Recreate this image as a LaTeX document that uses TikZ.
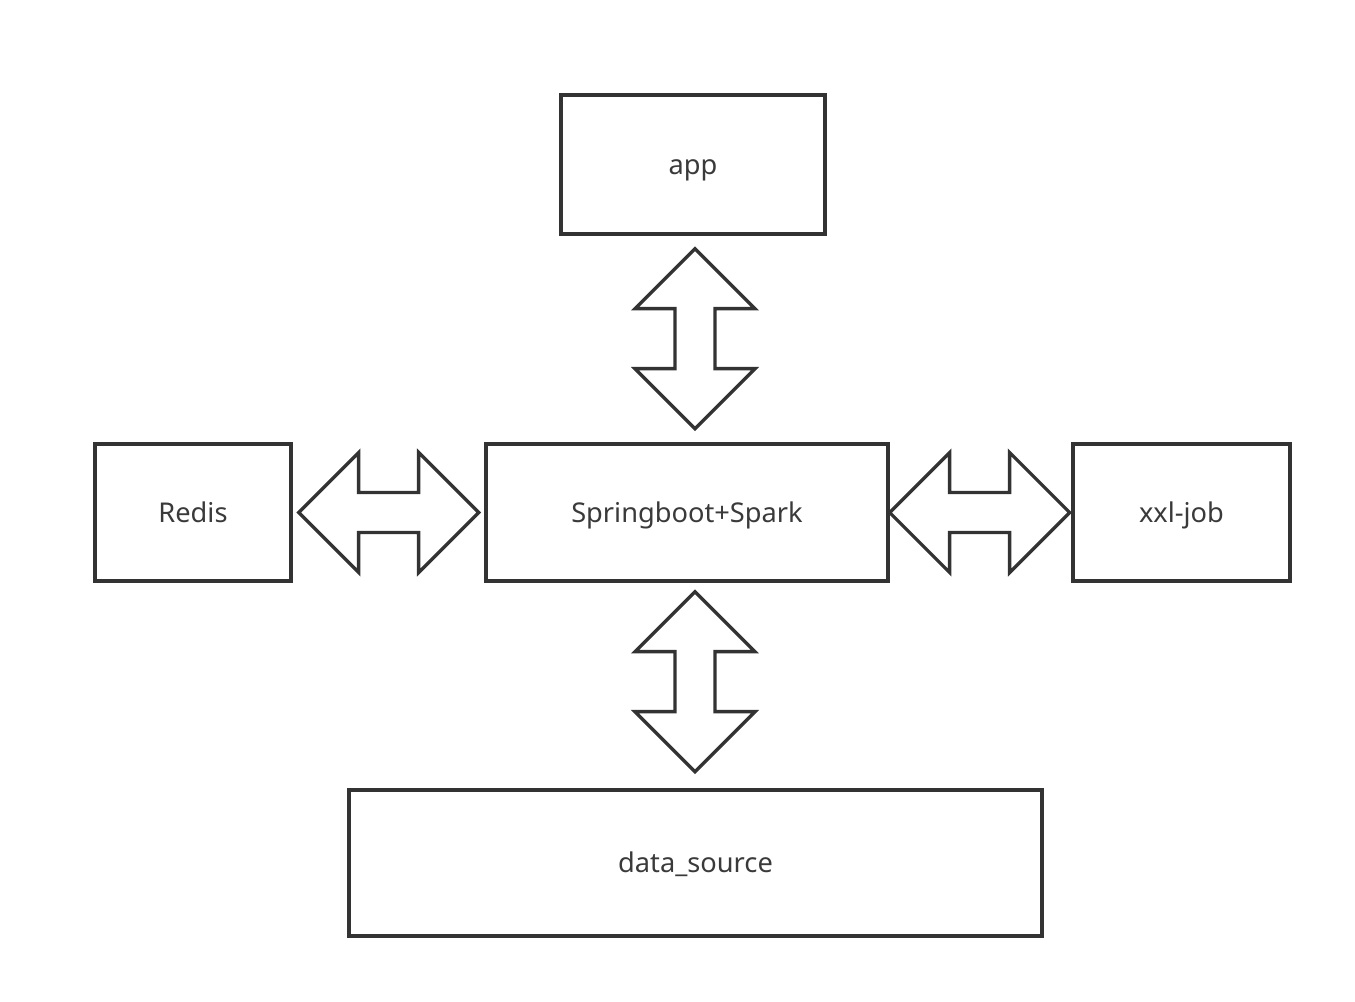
\documentclass[tikz,border=0pt]{standalone}
\usepackage{fontspec}
\setmainfont{Noto Sans}
\usetikzlibrary{calc}
\definecolor{linegray}{HTML}{333333}
\definecolor{textgray}{HTML}{3A3A3A}
\tikzset{
  box/.style={draw=linegray,line width=1.9pt,rectangle,inner sep=0pt,
    text=textgray,font=\fontsize{15.5}{18}\selectfont,
    text height=11pt,text depth=0pt},
  fat/.style={draw=linegray,line width=1.9pt,line join=miter,fill=white}
}
\begin{document}
\begin{tikzpicture}[x=0.02cm,y=-0.02cm]
    \useasboundingbox (0,0) rectangle (1355,1001);
    \path
    % Central service
    (687,512.5)   node[box,minimum width=8.04cm,minimum height=2.74cm]  (core)  {Springboot+Spark}
    % Surrounding parts
    (693,164.5)   node[box,minimum width=5.28cm,minimum height=2.78cm]  (app)   {app}
    (193,512.5)   node[box,minimum width=3.92cm,minimum height=2.74cm]  (redis) {Redis}
    (1181.5,512.5) node[box,minimum width=4.34cm,minimum height=2.74cm] (xxl)   {xxl-job}
    (695.5,863)   node[box,minimum width=13.86cm,minimum height=2.92cm] (data)  {data\_source};

    % Tips of the double arrows
    \coordinate (tipA) at ($(app.south)+(2,13)$);
    \coordinate (tipR) at ($(redis.east)+(6,0)$);
    \coordinate (tipX) at ($(core.east)+(0,0)$);
    \coordinate (tipD) at ($(core.south)+(8,9)$);

    % Link the different parts with double arrows
    \draw[fat] (tipA) -- ++(60,60) -- ++(-40,0) -- ++(0,60) -- ++(40,0) -- ++(-60,60)
      -- ++(-60,-60) -- ++(40,0) -- ++(0,-60) -- ++(-40,0) -- cycle;
    \draw[fat] (tipD) -- ++(60,60) -- ++(-40,0) -- ++(0,60) -- ++(40,0) -- ++(-60,60)
      -- ++(-60,-60) -- ++(40,0) -- ++(0,-60) -- ++(-40,0) -- cycle;
    \draw[fat] (tipR) -- ++(60,-60) -- ++(0,40) -- ++(60,0) -- ++(0,-40) -- ++(60,60)
      -- ++(-60,60) -- ++(0,-40) -- ++(-60,0) -- ++(0,40) -- cycle;
    \draw[fat] (tipX) -- ++(60,-60) -- ++(0,40) -- ++(60,0) -- ++(0,-40) -- ++(60,60)
      -- ++(-60,60) -- ++(0,-40) -- ++(-60,0) -- ++(0,40) -- cycle;
\end{tikzpicture}
\end{document}
